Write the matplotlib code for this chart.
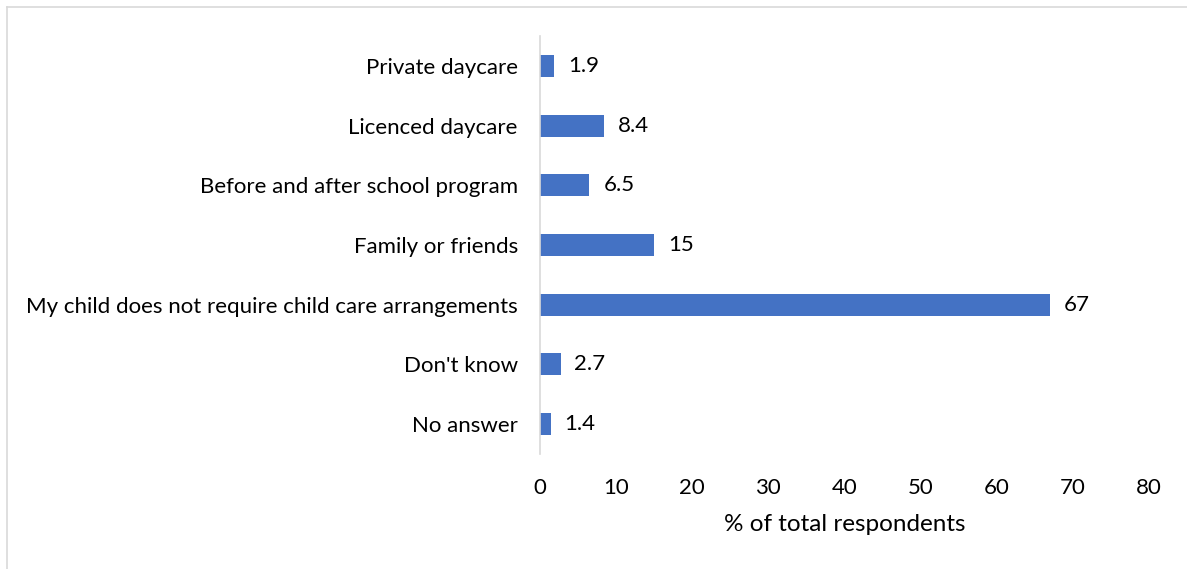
import matplotlib
matplotlib.use("Agg")
import matplotlib.pyplot as plt
from matplotlib.lines import Line2D

categories = ["Private daycare", "Licenced daycare", "Before and after school program",
              "Family or friends", "My child does not require child care arrangements",
              "Don't know", "No answer"]
values = [1.9, 8.4, 6.5, 15, 67, 2.7, 1.4]
value_labels = ["1.9", "8.4", "6.5", "15", "67", "2.7", "1.4"]
xticks = [0, 10, 20, 30, 40, 50, 60, 70, 80]

plt.rcParams['font.family'] = ['Lato', 'DejaVu Sans']
W, H = 1187, 569
fig = plt.figure(figsize=(W/100, H/100), dpi=100)
ax = fig.add_axes([540/W, 1-454/H, (1149-540)/W, (454-36)/H])

ypos = list(range(len(categories)))
ax.barh(ypos, values, height=0.37, color="#4472C4")
ax.set_ylim(len(categories)-0.5, -0.5)
ax.set_xlim(0, 80)
ax.set_yticks(ypos)
ax.set_yticklabels(categories, fontsize=16, color="#000000")
ax.set_xticks(xticks)
ax.set_xticklabels([str(t) for t in xticks], fontsize=16)
ax.tick_params(axis='both', length=0)
ax.tick_params(axis='y', pad=16)
ax.tick_params(axis='x', pad=17)
for s in ["top", "right", "bottom"]:
    ax.spines[s].set_visible(False)
ax.spines["left"].set_color("#d9d9d9")
ax.spines["left"].set_linewidth(1.2)
ax.set_xlabel("% of total respondents", fontsize=17.5, labelpad=12)

for y, v, lab in zip(ypos, values, value_labels):
    ax.annotate(lab, (v, y), xytext=(10, 0), textcoords="offset points",
                va="center", ha="left", fontsize=16)

# outer border (top and left)
fig.add_artist(Line2D([7/W, 1], [1-7/H, 1-7/H], transform=fig.transFigure, color="#d9d9d9", lw=1.2))
fig.add_artist(Line2D([7/W, 7/W], [0, 1-7/H], transform=fig.transFigure, color="#d9d9d9", lw=1.2))

fig.savefig("out.png", dpi=100)
